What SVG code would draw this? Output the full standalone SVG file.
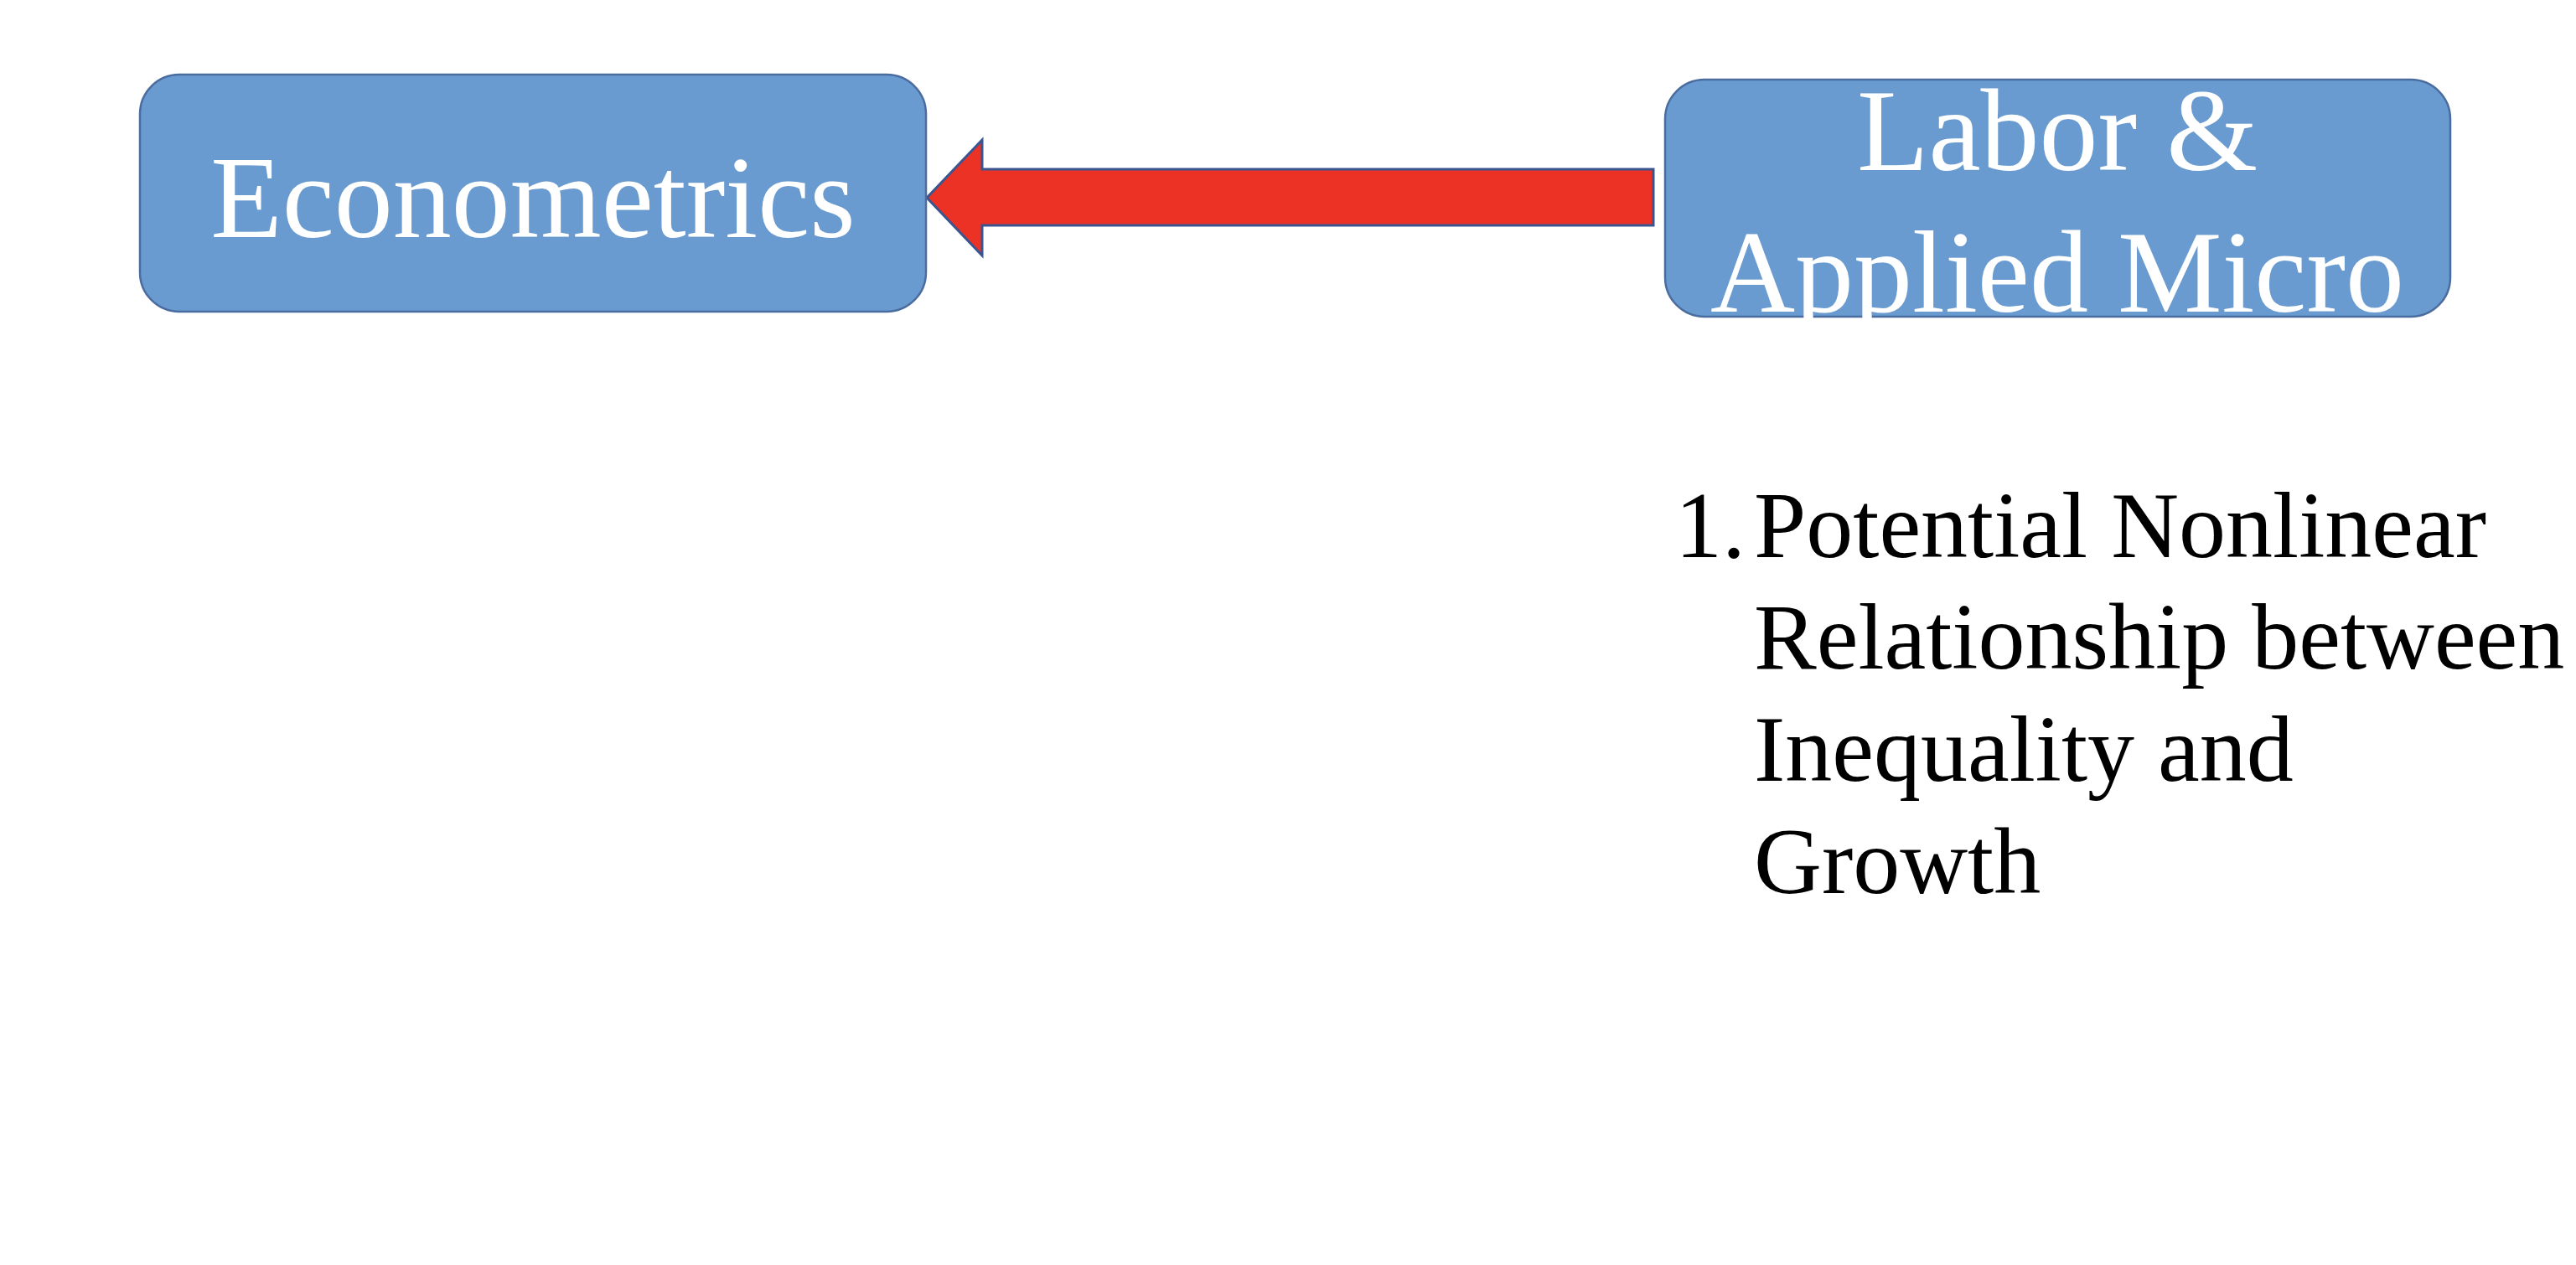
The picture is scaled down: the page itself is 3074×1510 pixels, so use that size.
<svg xmlns="http://www.w3.org/2000/svg" width="3074" height="1510" viewBox="0 0 3074 1510">
<style>
.box{fill:#699BD0;stroke:#4A6C9F;stroke-width:2.5}
.boxtxt{font-family:"Liberation Serif","Times New Roman",serif;font-size:140px;fill:#ffffff;text-anchor:middle}
.list{font-family:"Liberation Serif","Times New Roman",serif;font-size:112px;fill:#000000}
.arrow{fill:#EC3224;stroke:#3A5590;stroke-width:3;stroke-linejoin:miter}
</style>
<defs>
<clipPath id="labclip"><rect x="1987" y="60" width="940" height="320"/></clipPath>
</defs>
<rect width="3074" height="1510" fill="#ffffff"/>
<g id="connectors">
<polygon class="arrow" points="1106,236 1172,167 1172,202 1973,202 1973,269 1172,269 1172,305"/>
</g>
<g id="econometrics">
<rect class="box" x="167" y="89" width="938" height="283" rx="47" ry="47"/>
<text class="boxtxt" x="636" y="283">Econometrics</text>
</g>
<g id="labor">
<rect class="box" x="1987" y="95" width="937" height="283" rx="47" ry="47"/>
<g clip-path="url(#labclip)">
<text class="boxtxt" x="2455" y="203">Labor &amp;</text>
<text class="boxtxt" x="2455" y="372">Applied Micro</text>
</g>
</g>
<g id="list">
<text class="list" x="1999" y="665">1.</text>
<text class="list" x="2093" y="665">Potential Nonlinear</text>
<text class="list" x="2093" y="798">Relationship between</text>
<text class="list" x="2093" y="932">Inequality and</text>
<text class="list" x="2093" y="1066">Growth</text>
</g>
</svg>
